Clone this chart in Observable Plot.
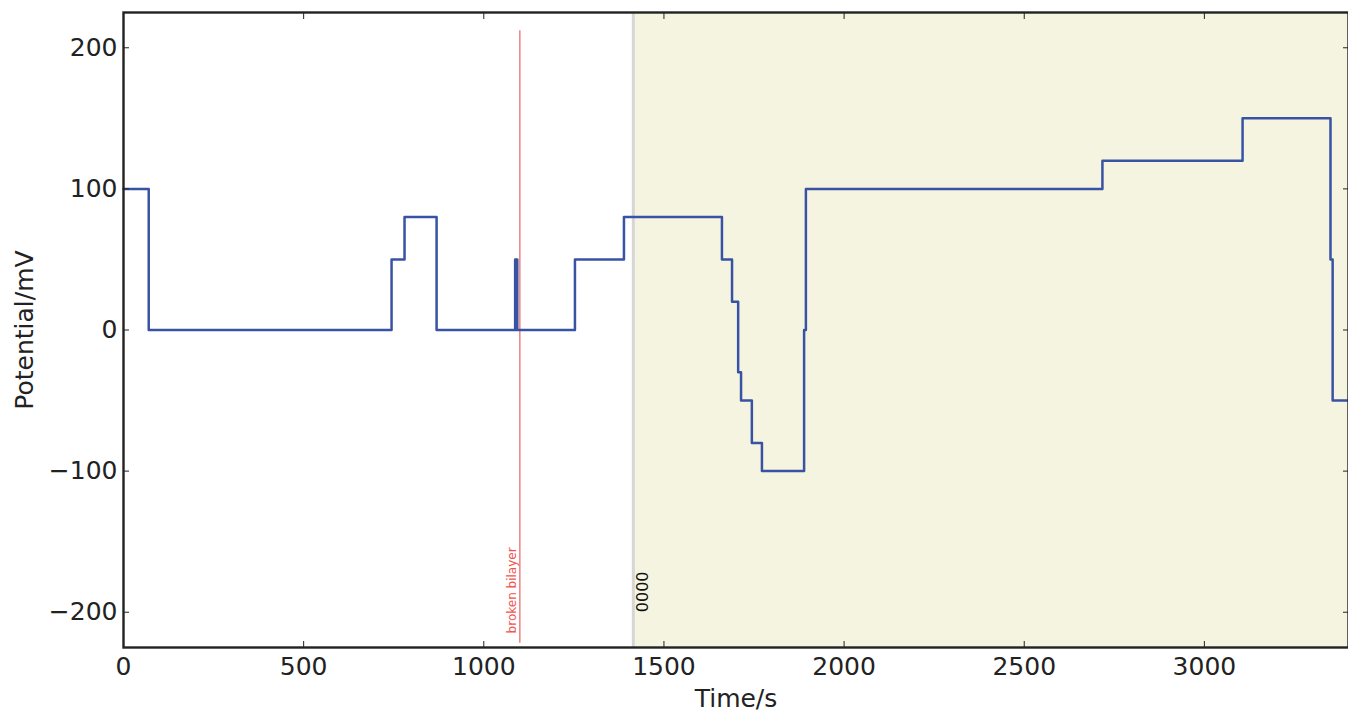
<!DOCTYPE html>
<html>
<head>
<meta charset="utf-8">
<script src="https://cdn.jsdelivr.net/npm/d3@7"></script>
<script src="https://cdn.jsdelivr.net/npm/@observablehq/plot@0.6"></script>
<style>
  html, body { margin: 0; padding: 0; background: #fff; }
  svg { display: block; font-family: "DejaVu Sans", sans-serif; }
</style>
</head>
<body>
<div id="chart"></div>
<script>
// Step trace: potential (mV) applied from each time (s) onward
const times      = [0, 70, 744, 780, 869, 1087, 1089, 1091, 1093, 1253, 1389, 1661, 1689, 1706, 1714, 1744, 1772, 1889, 1894, 2717, 3106, 3350, 3356, 3400];
const potentials = [100, 0, 50, 80, 0, 50, 0, 50, 0, 50, 80, 50, 20, -30, -50, -80, -100, 0, 100, 120, 150, 50, -50, -50];

const xTicks = [0, 500, 1000, 1500, 2000, 2500, 3000];
const yTicks = [-200, -100, 0, 100, 200];
const xDomain = [0, 3400];
const yDomain = [-225, 225];

// Annotations
const shadeStart = 1415;            // shaded phase
const shadeLabel = "0000";
const eventTime = 1100;             // event marker
const eventLabel = "broken bilayer";
const eventRange = [-222, 212];

const trace = times.map((t, i) => ({t, v: potentials[i]}));
const fmt = d => (d < 0 ? "\u2212" + Math.abs(d) : String(d));

const chart = Plot.plot({
  width: 1348,
  height: 713,
  marginLeft: 123,
  marginRight: 0,
  marginTop: 12,
  marginBottom: 66,
  style: {fontFamily: "DejaVu Sans, sans-serif", color: "#222"},
  x: {domain: xDomain},
  y: {domain: yDomain},
  marks: [
    Plot.rect([{}], {x1: shadeStart, x2: xDomain[1], y1: yDomain[0], y2: yDomain[1], fill: "#f5f4e0"}),
    Plot.ruleX([shadeStart], {stroke: "#d6d6d6", strokeWidth: 3}),
    Plot.ruleX([eventTime], {y1: eventRange[0], y2: eventRange[1], stroke: "#f08a86", strokeWidth: 1.6}),
    Plot.text([eventLabel], {x: eventTime, y: eventRange[0] + 7, text: d => d, rotate: -90, textAnchor: "start", lineAnchor: "bottom", dx: -4, fill: "#f0524e", fontSize: 12}),
    Plot.text([shadeLabel], {x: shadeStart, y: -200, text: d => d, rotate: -90, textAnchor: "start", lineAnchor: "top", dx: 3, fill: "#111", fontSize: 16}),
    Plot.line(trace, {x: "t", y: "v", curve: "step-after", stroke: "#3953a4", strokeWidth: 2.5}),
    Plot.axisX({anchor: "bottom", ticks: xTicks, tickFormat: fmt, tickSize: -6, tickPadding: 16, fontSize: 25, label: "Time/s", labelAnchor: "center", labelArrow: "none", labelOffset: 59}),
    Plot.axisX({anchor: "top", ticks: xTicks, tickSize: -6, tickFormat: () => "", label: null}),
    Plot.axisY({anchor: "left", ticks: yTicks, tickFormat: fmt, tickSize: -6, tickPadding: 12, fontSize: 25, label: "Potential/mV", labelAnchor: "center", labelArrow: "none", labelOffset: 108}),
    Plot.axisY({anchor: "right", ticks: yTicks, tickSize: -6, tickFormat: () => "", label: null}),
    Plot.frame({stroke: "#222", strokeWidth: 2.4})
  ]
});
document.getElementById("chart").appendChild(chart);
</script>
</body>
</html>
